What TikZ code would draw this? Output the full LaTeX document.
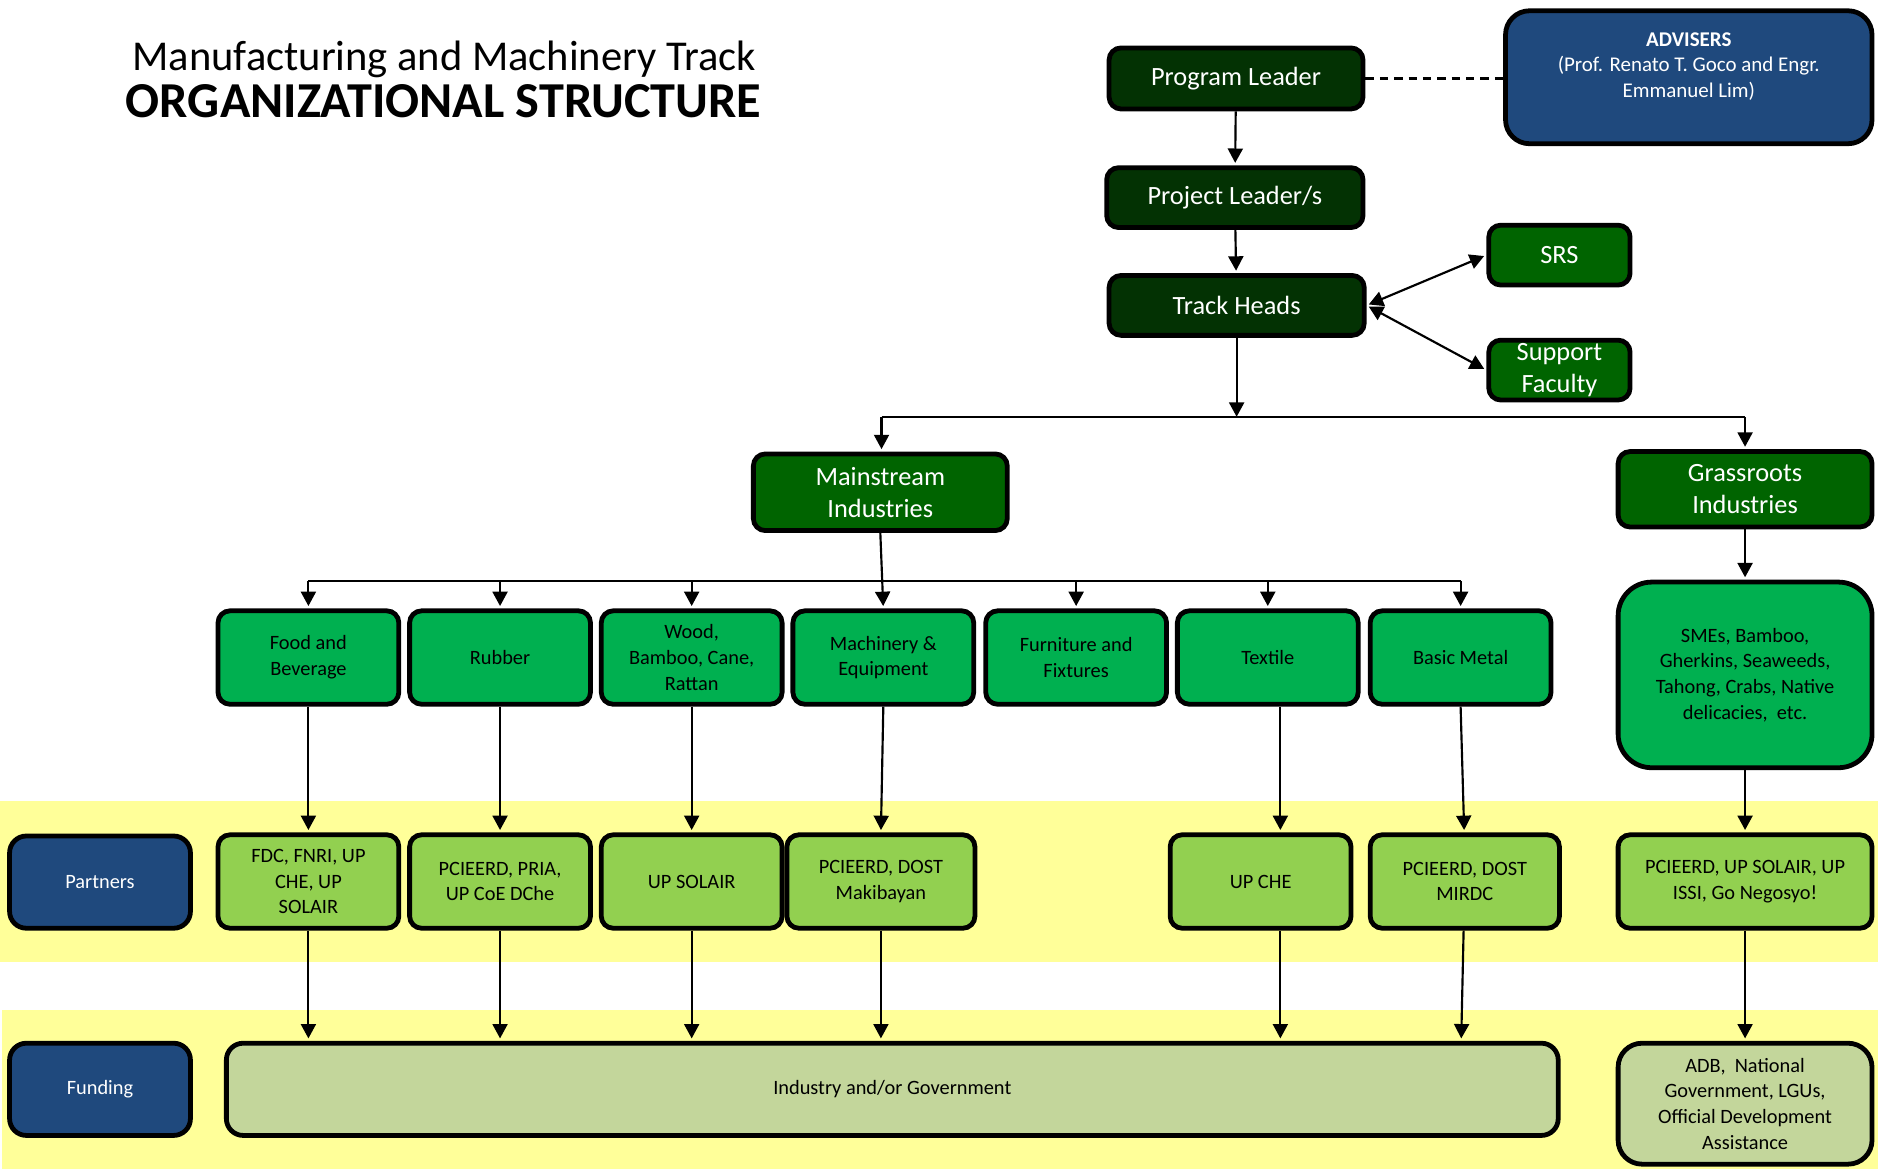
\documentclass[tikz,border=0pt]{standalone}
\usepackage{fontspec}
\setmainfont{Carlito}
\usetikzlibrary{arrows.meta}
\definecolor{leadc}{RGB}{3,50,3}
\definecolor{midc}{RGB}{0,100,0}
\definecolor{indc}{RGB}{0,176,80}
\definecolor{partc}{RGB}{146,208,80}
\definecolor{fundc}{RGB}{195,214,155}
\definecolor{bluec}{RGB}{31,73,125}
\definecolor{bandc}{RGB}{255,255,153}
\tikzset{
  box/.style={draw=black, line width=4pt, rounded corners=10pt, align=center, inner sep=2pt},
  big/.style={font=\fontsize{22}{26.5}\selectfont},
  small/.style={font=\fontsize{17}{21.5}\selectfont},
  lead/.style={box, big, fill=leadc, text=white},
  mid/.style={box, big, fill=midc, text=white},
  ind/.style={box, small, fill=indc, text=black},
  part/.style={box, small, fill=partc, text=black},
  fund/.style={box, small, fill=fundc, text=black},
  lab/.style={box, small, fill=bluec, text=white, rounded corners=14pt},
  link/.style={line width=1.8pt},
  conn/.style={link, -{Triangle[length=12pt,width=12.5pt]}, shorten >=2pt},
  dconn/.style={link, {Triangle[length=12pt,width=12.5pt]}-{Triangle[length=12pt,width=12.5pt]}, shorten >=2pt, shorten <=2pt},
}
\begin{document}
\begin{tikzpicture}[x=1pt, y=-1pt]
\useasboundingbox (0,0) rectangle (1568,976);
% bands
\fill[bandc] (0,669) rectangle (1568,803);
\fill[bandc] (2,843) rectangle (1568,976);
% title
\node[anchor=base, inner sep=0pt, font=\fontsize{35.5}{40}\selectfont] (t1) at (371,59) {Manufacturing and Machinery Track};
\node[anchor=base, inner sep=0pt, font=\fontsize{42}{46}\selectfont\bfseries] (t2) at (370.5,98) {ORGANIZATIONAL STRUCTURE};
% top
\node[lead, minimum width=212pt, minimum height=51pt] (pl) at (1032,65.5) {Program Leader};
\node[box, fill=bluec, rounded corners=20pt, minimum width=306pt, minimum height=111pt] (adv) at (1410,64.5) {};
\node[text=white, align=center, inner sep=0pt, font=\fontsize{17.5}{21}\selectfont] (advt) at (1410,55.5) {\textbf{ADVISERS}\\(Prof. Renato T. Goco and Engr.\\Emmanuel Lim)};
\node[lead, minimum width=214pt, minimum height=50pt] (pj) at (1031,165) {Project Leader/s};
\node[lead, minimum width=213pt, minimum height=50pt] (th) at (1032.5,255) {Track Heads};
\node[mid, minimum width=118pt, minimum height=50pt] (srs) at (1302,213) {SRS};
\node[mid, minimum width=118pt, minimum height=50pt] (sf) at (1302,309) {Support\\Faculty};
\node[mid, minimum width=212pt, minimum height=64pt] (ms) at (735,411) {Mainstream\\Industries};
\node[mid, minimum width=212pt, minimum height=63pt] (gr) at (1457,408.5) {Grassroots\\Industries};
% industries
\node[ind, minimum width=151pt, minimum height=78pt] (fb) at (257.5,549) {Food and\\Beverage};
\node[ind, minimum width=151pt, minimum height=78pt] (ru) at (417.5,549) {Rubber};
\node[ind, minimum width=151pt, minimum height=78pt] (wo) at (577.5,549) {Wood,\\Bamboo, Cane,\\Rattan};
\node[ind, minimum width=151pt, minimum height=78pt] (me) at (737.5,549) {Machinery \&\\Equipment};
\node[ind, minimum width=151pt, minimum height=78pt] (ff) at (898.5,549) {Furniture and\\Fixtures};
\node[ind, minimum width=151pt, minimum height=78pt] (tx) at (1058.5,549) {Textile};
\node[ind, minimum width=151pt, minimum height=78pt] (bm) at (1219.5,549) {Basic Metal};
\node[ind, rounded corners=28pt, minimum width=212pt, minimum height=155pt] (sme) at (1457,563.5) {SMEs, Bamboo,\\Gherkins, Seaweeds,\\Tahong, Crabs, Native\\delicacies,\ \ etc.};
% partners
\node[lab, minimum width=151pt, minimum height=77pt] (plab) at (83.5,736.5) {Partners};
\node[part, minimum width=151pt, minimum height=78pt] (p1) at (257.5,736) {FDC, FNRI, UP\\CHE, UP\\SOLAIR};
\node[part, minimum width=151pt, minimum height=78pt] (p2) at (417.5,736) {PCIEERD, PRIA,\\UP CoE DChe};
\node[part, minimum width=151pt, minimum height=78pt] (p3) at (577.5,736) {UP SOLAIR};
\node[part, minimum width=157pt, minimum height=78pt] (p4) at (735.5,736) {PCIEERD, DOST\\Makibayan};
\node[part, minimum width=151pt, minimum height=78pt] (p5) at (1052.5,736) {UP CHE};
\node[part, minimum width=158pt, minimum height=78pt] (p6) at (1223,736) {PCIEERD, DOST\\MIRDC};
\node[part, minimum width=212pt, minimum height=78pt] (p7) at (1457,736) {PCIEERD, UP SOLAIR, UP\\ISSI, Go Negosyo!};
% funding
\node[lab, minimum width=151pt, minimum height=77pt] (flab) at (83.5,909.5) {Funding};
\node[fund, rounded corners=14pt, minimum width=1112pt, minimum height=77pt] (ig) at (745,909.5) {Industry and/or Government};
\node[fund, rounded corners=20pt, minimum width=212pt, minimum height=101pt] (adb) at (1457,921.5) {ADB,\ \ National\\Government, LGUs,\\Official Development\\Assistance};
% bus coordinates
\coordinate (b1) at (1032.5,348);
\coordinate (b1L) at (736,348);
\coordinate (b1R) at (1457,348);
\coordinate (b2L) at (257.5,485);
\coordinate (b2R) at (1219.5,485);
% connectors
\draw[link, dash pattern=on 7pt off 5pt] (pl.east) -- (pl.east -| adv.west);
\draw[conn] (pl) -- (pj);
\draw[conn] (pj) -- (th);
\draw[dconn] (th.east) -- (srs.west);
\draw[dconn] (th.east) -- (sf.west);
\draw[conn, shorten >=0pt] (th.south) -- (b1);
\draw[link] (b1L) -- (b1R);
\draw[conn] (b1L) -- (b1L |- ms.north);
\draw[conn] (b1R) -- (gr.north);
\draw[conn] (gr) -- (sme);
\draw[conn] (ms.south) -- (me.north);
\draw[link] (b2L) -- (b2R);
\foreach \n in {fb,ru,wo,ff,tx,bm}{
  \draw[conn] (\n.north |- b2L) -- (\n.north);
}
\draw[conn] (fb) -- (p1);
\draw[conn] (ru) -- (p2);
\draw[conn] (wo) -- (p3);
\draw[conn] (me.south) -- (p4.north);
\draw[conn] ([xshift=10.5pt]tx.south) -- ([xshift=10.5pt]tx.south |- p5.north);
\draw[conn] (bm.south) -- ([xshift=3pt]bm.south |- p6.north);
\draw[conn] (sme) -- (p7);
\draw[conn] (p1.south) -- (p1.south |- ig.north);
\draw[conn] (p2.south) -- (p2.south |- ig.north);
\draw[conn] (p3.south) -- (p3.south |- ig.north);
\draw[conn] (p4.south) -- (p4.south |- ig.north);
\draw[conn] ([xshift=16.5pt]p5.south) -- ([xshift=16.5pt]p5.south |- ig.north);
\draw[conn] ([xshift=-1pt]p6.south) -- ([xshift=-3pt]p6.south |- ig.north);
\draw[conn] (p7) -- (adb);
\end{tikzpicture}
\end{document}
